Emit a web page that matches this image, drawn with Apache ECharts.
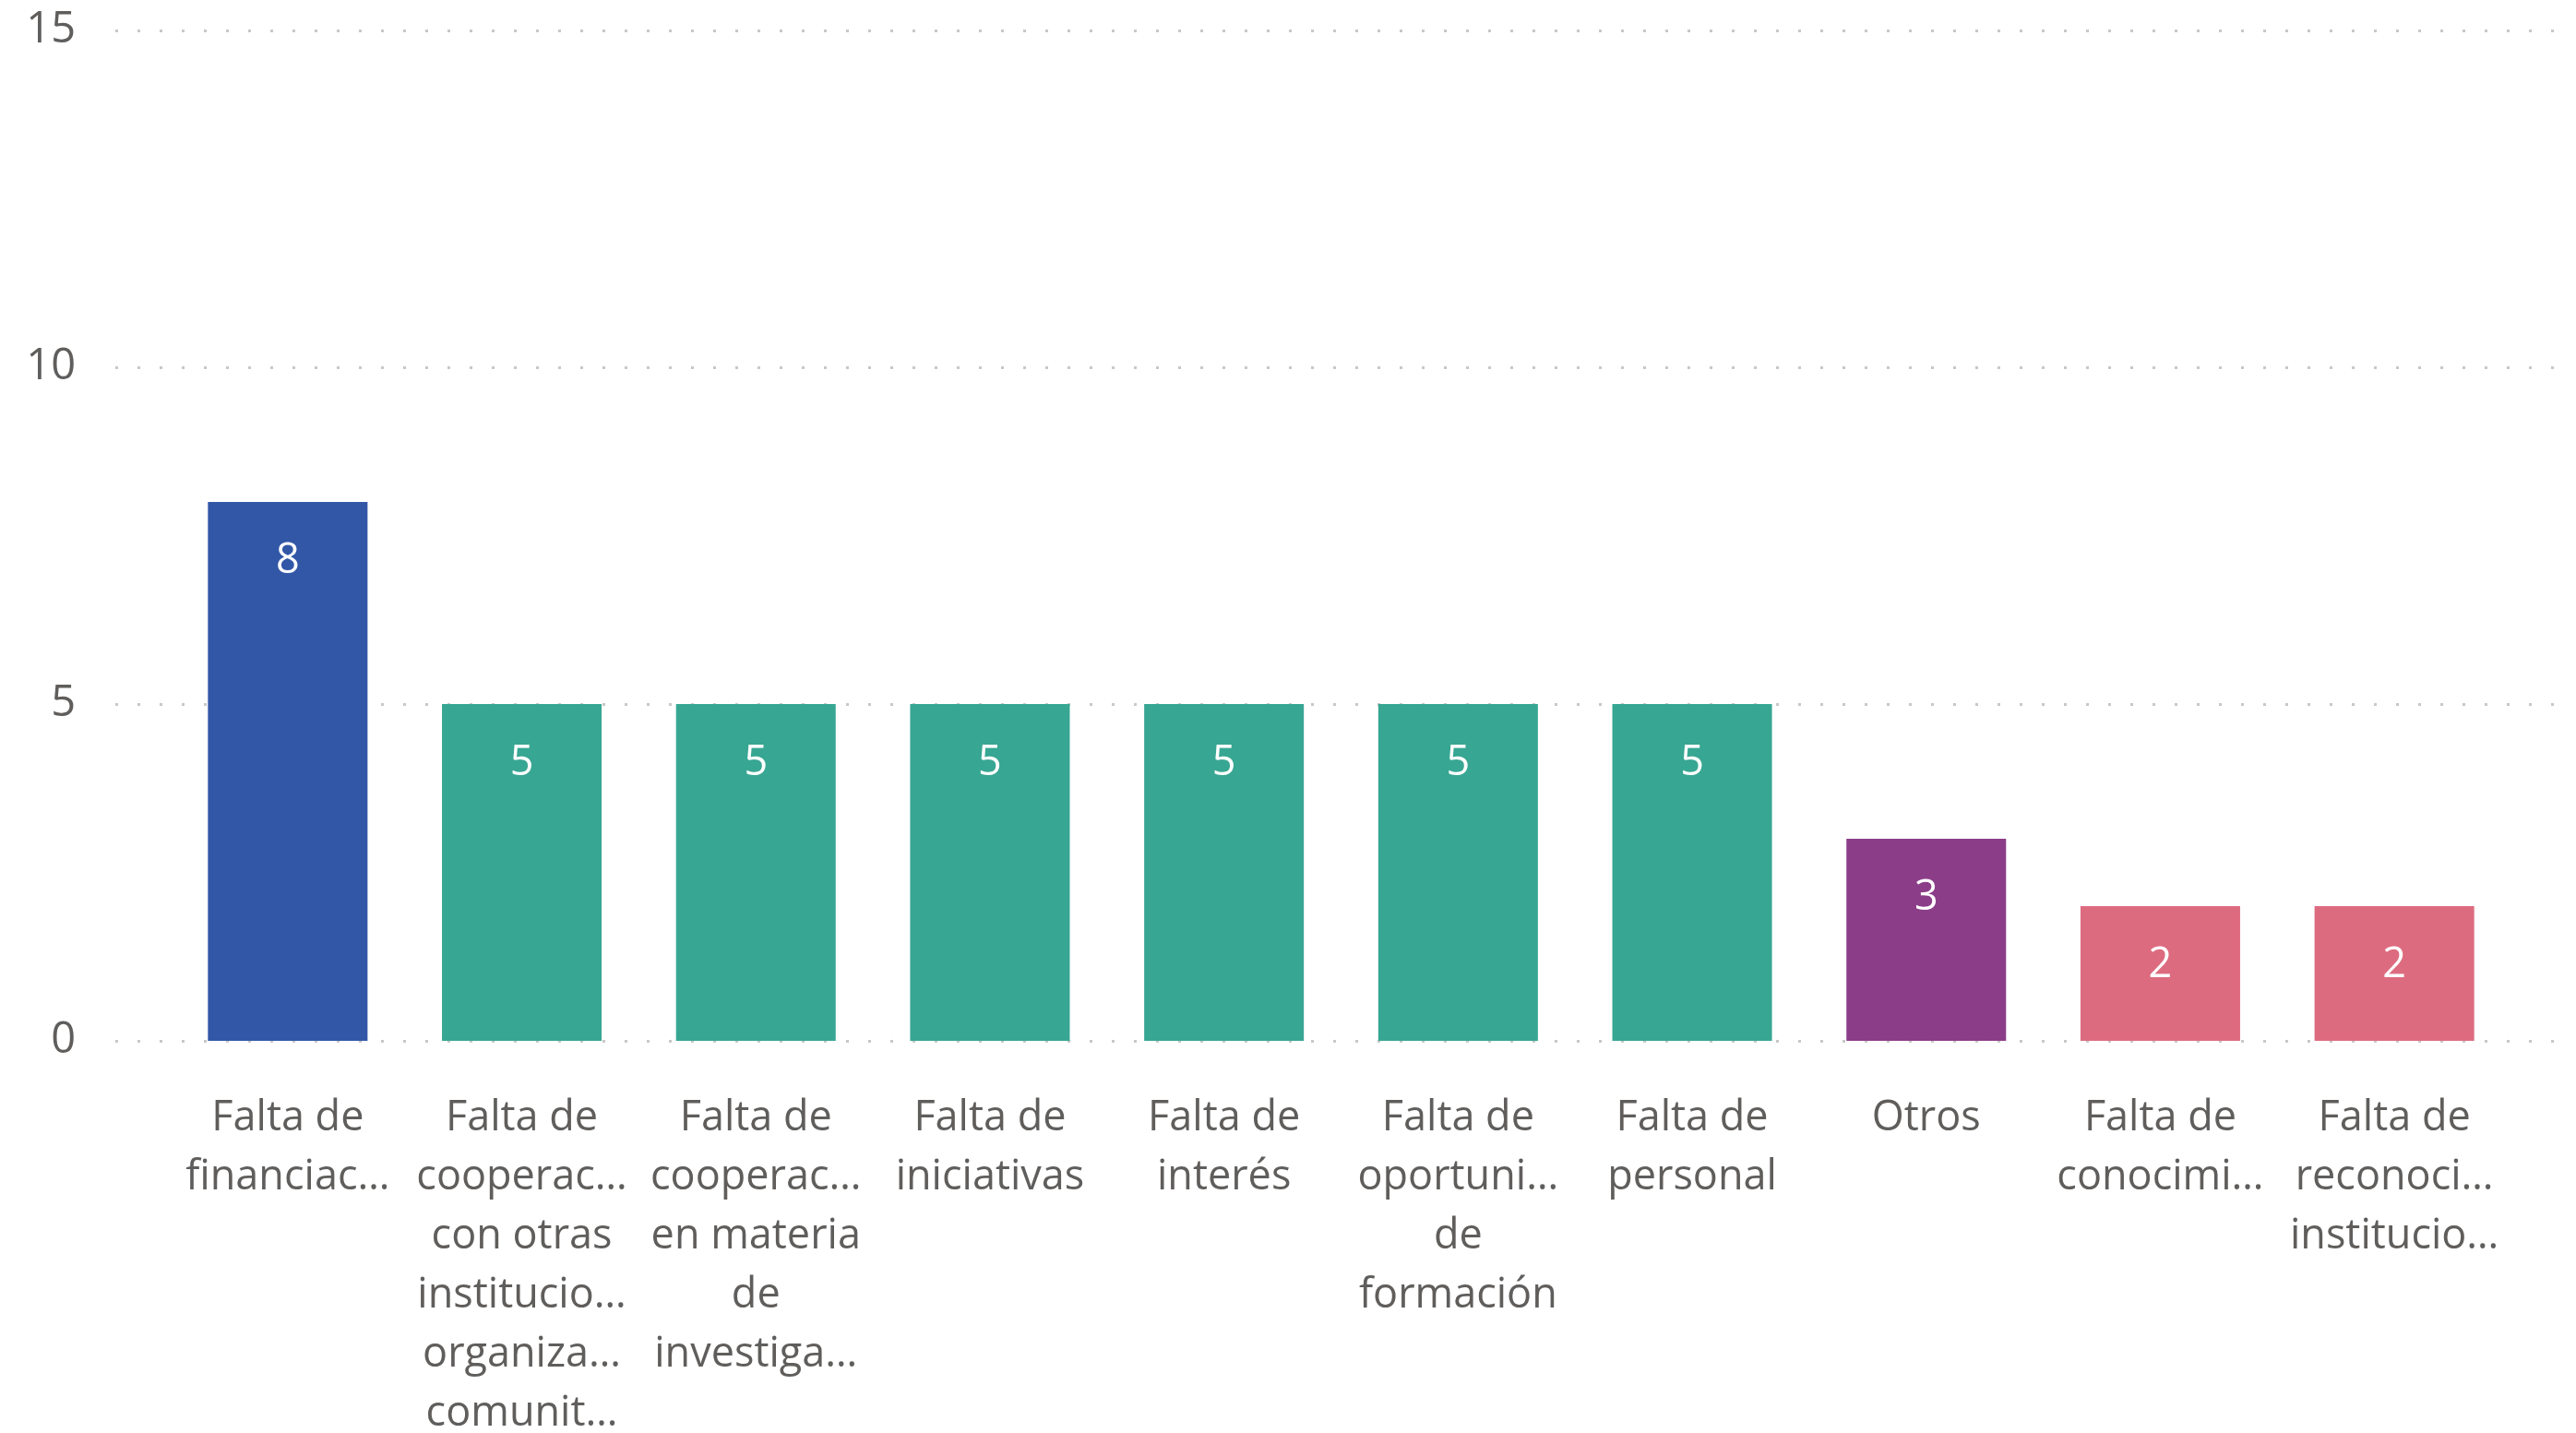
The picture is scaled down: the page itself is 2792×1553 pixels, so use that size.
<!DOCTYPE html>
<html>
<head>
<meta charset="utf-8">
<script src="https://cdn.jsdelivr.net/npm/echarts@6/dist/echarts.min.js"></script>
<style>
html,body{margin:0;padding:0;background:#fff;}
#chart{width:2792px;height:1553px;}
</style>
</head>
<body>
<div id="chart"></div>
<script>
const categories = [
  "Falta de\nfinanciac…",
  "Falta de\ncooperac…\ncon otras\ninstitucio…\norganiza…\ncomunit…",
  "Falta de\ncooperac…\nen materia\nde\ninvestiga…",
  "Falta de\niniciativas",
  "Falta de\ninterés",
  "Falta de\noportuni…\nde\nformación",
  "Falta de\npersonal",
  "Otros",
  "Falta de\nconocimi…",
  "Falta de\nreconoci…\ninstitucio…"
];
const values = [8, 5, 5, 5, 5, 5, 5, 3, 2, 2];
const yTicks = [0, 5, 10, 15];

const barColors = ["#3257A7", "#37A692", "#37A692", "#37A692", "#37A692", "#37A692", "#37A692", "#8B3D88", "#DD6B7F", "#DD6B7F"];
const FONT = "'Open Sans', 'Noto Sans', sans-serif";

const chart = echarts.init(document.getElementById('chart'));
chart.setOption({
  animation: false,
  backgroundColor: '#ffffff',
  grid: [
    {left: 125, right: 22, top: 33, bottom: 425, containLabel: false, outerBoundsMode: 'none'},
    {left: 185, right: 70, top: 33, bottom: 425, containLabel: false, outerBoundsMode: 'none'}
  ],
  xAxis: [
    {type: 'value', gridIndex: 0, min: 0, max: 1, show: false},
    {
      type: 'category', gridIndex: 1, data: categories,
      axisLine: {show: false}, axisTick: {show: false},
      axisLabel: {
        interval: 0, color: '#605E5C', fontFamily: FONT, fontSize: 45,
        lineHeight: 64, margin: 52, verticalAlign: 'top'
      }
    }
  ],
  yAxis: [
    {
      type: 'value', gridIndex: 0, min: yTicks[0], max: yTicks[yTicks.length - 1], interval: 5,
      axisLine: {show: false}, axisTick: {show: false},
      axisLabel: {color: '#605E5C', fontFamily: FONT, fontSize: 47, margin: 43},
      splitLine: {show: true, lineStyle: {color: '#C8C8C8', width: 3, type: [3, 21]}}
    },
    {
      type: 'value', gridIndex: 1, min: yTicks[0], max: yTicks[yTicks.length - 1], interval: 5,
      show: false, splitLine: {show: false}
    }
  ],
  series: [{
    type: 'bar',
    xAxisIndex: 1, yAxisIndex: 1,
    data: values.map((v, i) => ({value: v, itemStyle: {color: barColors[i]}})),
    barCategoryGap: '31.8%',
    label: {
      show: true, position: 'insideTop', distance: 42,
      color: '#ffffff', fontFamily: FONT, fontSize: 45
    }
  }]
});
</script>
</body>
</html>
